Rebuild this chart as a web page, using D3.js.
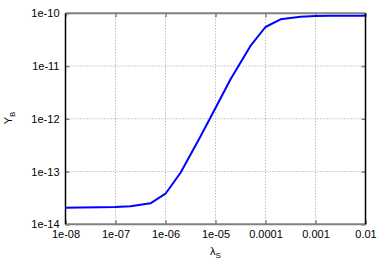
<!DOCTYPE html>
<html><head><meta charset="utf-8">
<script src="https://cdn.jsdelivr.net/npm/d3@7"></script>
<style>body{margin:0;background:#fff}svg{display:block}text{font-family:"Liberation Sans",Arial,sans-serif}</style>
</head><body>
<svg id="c" width="385" height="270"></svg>
<script>
const lambdaS = [1e-8,2e-8,5e-8,1e-7,2e-7,5e-7,1e-6,2e-6,5e-6,1e-5,2e-5,5e-5,1e-4,2e-4,5e-4,1e-3,2e-3,5e-3,1e-2];
const YB = [2.07e-14,2.08e-14,2.1e-14,2.13e-14,2.2e-14,2.5e-14,3.8e-14,9.5e-14,4.6e-13,1.6e-12,5.6e-12,2.4e-11,5.5e-11,7.7e-11,8.6e-11,8.9e-11,8.95e-11,9e-11,9e-11];
const xTicks = [1e-8,1e-7,1e-6,1e-5,1e-4,1e-3,1e-2];
const xTickLabels = ["1e-08","1e-07","1e-06","1e-05","0.0001","0.001","0.01"];
const yTicks = [1e-14,1e-13,1e-12,1e-11,1e-10];
const yTickLabels = ["1e-14","1e-13","1e-12","1e-11","1e-10"];

const L=65.5,R=365.5,T=13.3,B=224.3;
const svg=d3.select("#c");
const x=d3.scaleLog().domain([1e-8,1e-2]).range([L,R]);
const y=d3.scaleLog().domain([1e-14,1e-10]).range([B,T]);

// grid
const g=svg.append("g");
g.selectAll(".vg").data(xTicks.slice(1,-1)).join("line")
 .attr("x1",d=>x(d)).attr("x2",d=>x(d)).attr("y1",T).attr("y2",B)
 .attr("stroke","#a0a0a0").attr("stroke-width",1).attr("stroke-dasharray","1,2");
g.selectAll(".hg").data(yTicks.slice(1,-1)).join("line")
 .attr("y1",d=>y(d)).attr("y2",d=>y(d)).attr("x1",L).attr("x2",R)
 .attr("stroke","#a0a0a0").attr("stroke-width",1).attr("stroke-dasharray","1,2");

// ticks via axes
const ax=(a)=>a.tickSize(-4).tickPadding(6);
const xb=svg.append("g").attr("transform",`translate(0,${B})`)
 .call(ax(d3.axisBottom(x).tickValues(xTicks).tickFormat((d,i)=>xTickLabels[i])));
const xt=svg.append("g").attr("transform",`translate(0,${T})`)
 .call(ax(d3.axisTop(x).tickValues(xTicks).tickFormat("")));
const yl=svg.append("g").attr("transform",`translate(${L},0)`)
 .call(ax(d3.axisLeft(y).tickValues(yTicks).tickFormat((d,i)=>yTickLabels[i])));
const yr=svg.append("g").attr("transform",`translate(${R},0)`)
 .call(ax(d3.axisRight(y).tickValues(yTicks).tickFormat("")));
[xb,xt,yl,yr].forEach(s=>{
  s.select(".domain").remove();
  s.selectAll(".tick line").attr("stroke","#808080").attr("stroke-width",1.5);
  s.selectAll("text").attr("fill","#000").style("font-size","11px").style("font-family","'Liberation Sans',Arial,sans-serif");
});

// line
const line=d3.line().x((d,i)=>x(lambdaS[i])).y(d=>y(d));
svg.append("path").datum(YB).attr("d",line).attr("fill","none")
 .attr("stroke","#0000ff").attr("stroke-width",2).attr("stroke-linejoin","round");

// border
svg.append("line").attr("x1",L).attr("x2",R).attr("y1",T).attr("y2",T).attr("stroke","#808080").attr("stroke-width",2);
svg.append("line").attr("x1",L).attr("x2",R).attr("y1",B).attr("y2",B).attr("stroke","#808080").attr("stroke-width",2);
svg.append("line").attr("x1",L).attr("x2",L).attr("y1",T).attr("y2",B).attr("stroke","#000").attr("stroke-width",1.5);
svg.append("line").attr("x1",R).attr("x2",R).attr("y1",T).attr("y2",B).attr("stroke","#000").attr("stroke-width",1.5);

// axis labels
const xl=svg.append("text").attr("x",215.5).attr("y",255).attr("text-anchor","middle").style("font-size","11px");
xl.append("tspan").text("λ");
xl.append("tspan").attr("dy",3).style("font-size","8px").text("S");
const ylab=svg.append("text").attr("transform","translate(12,118) rotate(-90)").attr("text-anchor","middle").style("font-size","11px");
ylab.append("tspan").text("Y");
ylab.append("tspan").attr("dy",3).style("font-size","8px").text("B");
</script>
</body></html>
